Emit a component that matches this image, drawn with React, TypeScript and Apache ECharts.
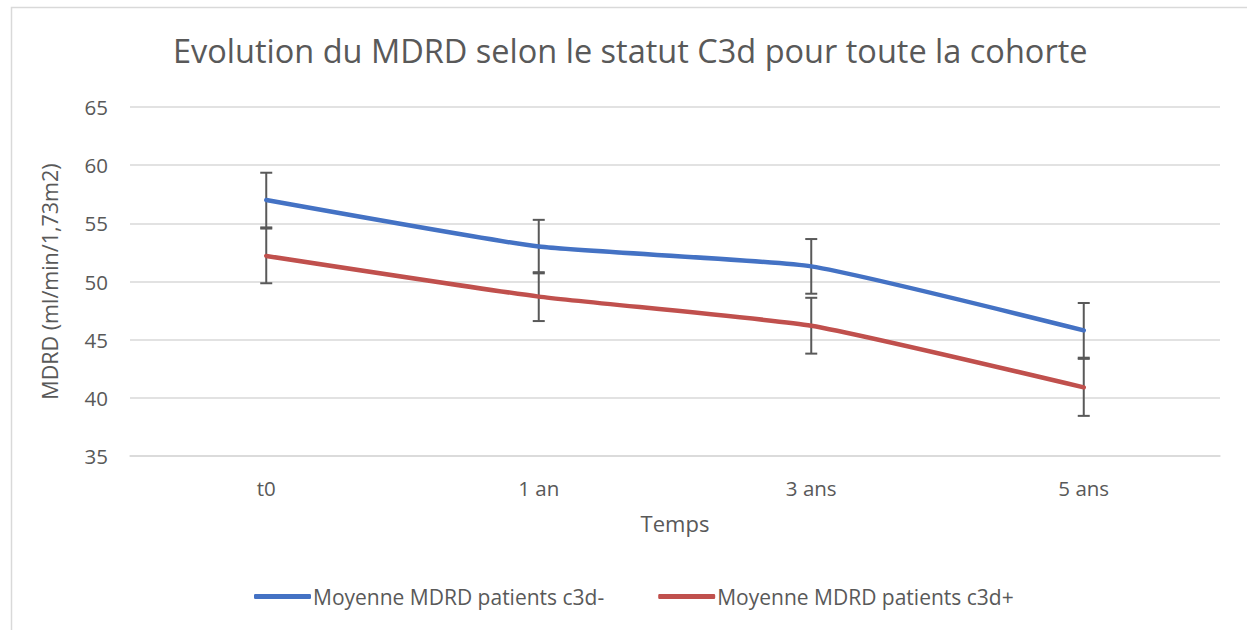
import React, { useEffect, useRef } from "react";
import * as echarts from "echarts";

const categories = ["t0", "1 an", "3 ans", "5 ans"];
const blueName = "Moyenne MDRD patients c3d-";
const redName = "Moyenne MDRD patients c3d+";
const blueValues = [57.0, 53.0, 51.3, 45.8];
const redValues = [52.2, 48.7, 46.2, 40.9];
const blueErr = [2.35, 2.3, 2.35, 2.35];
const redErr = [2.35, 2.1, 2.4, 2.45];
const yTicks = { min: 35, max: 65, interval: 5 };

const FONT = "'Open Sans', 'Noto Sans', sans-serif";
const GRAY = "#595959";

export default function App() {
  const ref = useRef<HTMLDivElement>(null);
  useEffect(() => {
    if (!ref.current) return;
    const chart = echarts.init(ref.current, undefined, { renderer: "svg" });
    const errData: number[][] = [];
    blueValues.forEach((v, i) => errData.push([i, v - blueErr[i], v + blueErr[i]]));
    redValues.forEach((v, i) => errData.push([i, v - redErr[i], v + redErr[i]]));
    chart.setOption({
      animation: false,
      backgroundColor: "#ffffff",
      textStyle: { fontFamily: FONT },
      title: {
        text: "Evolution du MDRD selon le statut C3d pour toute la cohorte",
        left: 173,
        top: 34,
        padding: 0,
        textStyle: { fontFamily: FONT, fontSize: 32.5, fontWeight: "normal", color: GRAY },
      },
      graphic: [
        {
          type: "rect",
          shape: { x: 11.5, y: 7.5, width: 1400, height: 800 },
          style: { fill: "none", stroke: "#D9D9D9", lineWidth: 1.5 },
          silent: true,
        },
      ],
      legend: {
        top: 581,
        left: 249,
        itemWidth: 57,
        itemHeight: 5,
        itemGap: 54,
        icon: "roundRect",
        textStyle: { fontFamily: FONT, fontSize: 21, color: GRAY, padding: [0, 0, 0, -3] },
        data: [blueName, redName],
      },
      grid: { left: 130, right: 27, top: 107, bottom: 174, containLabel: false },
      xAxis: {
        type: "category",
        data: categories,
        boundaryGap: true,
        name: "Temps",
        nameLocation: "middle",
        nameGap: 56,
        nameTextStyle: { fontFamily: FONT, fontSize: 22, color: GRAY },
        axisLine: { show: true, lineStyle: { color: "#D9D9D9", width: 1.5 } },
        axisTick: { show: false },
        axisLabel: { fontFamily: FONT, fontSize: 20.5, color: GRAY, margin: 21 },
      },
      yAxis: {
        type: "value",
        min: yTicks.min,
        max: yTicks.max,
        interval: yTicks.interval,
        name: "MDRD (ml/min/1,73m2)",
        nameLocation: "middle",
        nameGap: 70,
        nameTextStyle: { fontFamily: FONT, fontSize: 21.5, color: GRAY },
        axisLine: { show: false },
        axisTick: { show: false },
        axisLabel: { fontFamily: FONT, fontSize: 20.5, color: GRAY, margin: 22 },
        splitLine: { lineStyle: { color: "#D9D9D9", width: 1.5 } },
      },
      series: [
        {
          type: "custom",
          name: "err",
          z: 1,
          silent: true,
          data: errData,
          encode: { x: 0, y: [1, 2] },
          renderItem: (params: any, api: any) => {
            const x = api.value(0);
            const lo = api.coord([x, api.value(1)]);
            const hi = api.coord([x, api.value(2)]);
            const cap = 6;
            const style = { stroke: GRAY, lineWidth: 2 };
            return {
              type: "group",
              children: [
                { type: "line", shape: { x1: lo[0], y1: lo[1], x2: hi[0], y2: hi[1] }, style },
                { type: "line", shape: { x1: lo[0] - cap, y1: lo[1], x2: lo[0] + cap, y2: lo[1] }, style },
                { type: "line", shape: { x1: hi[0] - cap, y1: hi[1], x2: hi[0] + cap, y2: hi[1] }, style },
              ],
            };
          },
        },
        {
          type: "line",
          name: blueName,
          data: blueValues,
          z: 3,
          smooth: 0.15,
          symbol: "none",
          color: "#4472C4",
          lineStyle: { color: "#4472C4", width: 4.5, cap: "round", join: "round" },
        },
        {
          type: "line",
          name: redName,
          data: redValues,
          z: 3,
          smooth: 0.15,
          symbol: "none",
          color: "#C0504D",
          lineStyle: { color: "#C0504D", width: 4.5, cap: "round", join: "round" },
        },
      ],
    });
    return () => chart.dispose();
  }, []);
  return (
    <div
      ref={ref}
      style={{ position: "absolute", left: 0, top: 0, width: 1247, height: 630 }}
    />
  );
}
